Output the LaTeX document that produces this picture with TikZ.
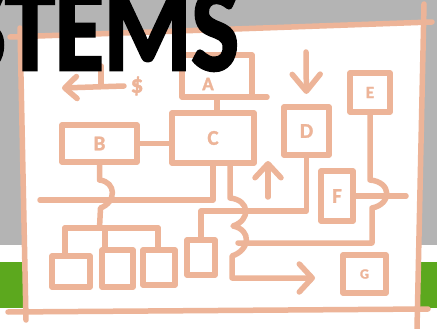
\documentclass[tikz,border=0pt]{standalone}
\usepackage{graphicx}
\usepackage{fontspec}
\setmainfont{Carlito}
\newfontfamily\titlefont{Carlito}[FakeBold=2.5]
\newfontfamily\sketchfont{Carlito}[FakeBold=1.5]
\usetikzlibrary{arrows.meta, positioning, calc}
\definecolor{cSketch}{RGB}{237,180,152}
\definecolor{cBoard}{RGB}{180,180,180}
\definecolor{cGrass}{RGB}{92,168,30}
\tikzset{
	pen/.style   ={draw=cSketch, line width=5.5pt, line cap=round, line join=round},
	sbox/.style  ={rectangle, pen, inner sep=0pt, outer sep=0pt, text=cSketch, font=\sketchfont\fontsize{21}{21}\selectfont\bfseries},
	glyph/.style ={text=cSketch, inner sep=0pt, font=\sketchfont\fontsize{19}{19}\selectfont\bfseries},
	wire/.style  ={pen},
}

\begin{document}
\begin{tikzpicture}[x=1pt, y=-1pt]
	\useasboundingbox (0,0) rectangle (437,329);
	\clip (0,0) rectangle (437,329);
	% slide background
	\fill[cBoard] (0,0) rectangle (437,245);
	\fill[white] (0,245) rectangle (437,262);
	\fill[cGrass] (0,262) rectangle (437,308);
	\fill[white] (0,308) rectangle (437,329);
	% sheet of paper
	\fill[white] (21,36) -- (423,23) -- (418,310) -- (26,312) -- cycle;
	\draw[pen] (20,28) -- (26,320);
	\draw[pen] (10,37) -- (432,22);
	\draw[pen] (424,4) -- (417,329);
	\draw[pen] (8,312) -- (428,309);
	% boxes
	\node[sbox, minimum width=70, minimum height=42] (A) at (217,76) {};
	\node[glyph] (lA) at (208,84) {A};
	\node[sbox, minimum width=75, minimum height=37] (B) at (99.5,143.5) {B};
	\node[sbox, minimum width=82, minimum height=50] (C) at (213,138) {C};
	\node[sbox, minimum width=45, minimum height=48] (D) at (306.5,131) {D};
	\node[sbox, minimum width=40, minimum height=39, font=\sketchfont\fontsize{17}{17}\selectfont\bfseries] (E) at (370,92.5) {E};
	\node[sbox, minimum width=32, minimum height=50] (F) at (337,196) {F};
	\node[sbox, minimum width=43, minimum height=38, font=\sketchfont\fontsize{14}{14}\selectfont\bfseries] (G) at (364.5,274) {G};
	\node[sbox, minimum width=38, minimum height=31] (T1) at (71,271.5) {};
	\node[sbox, minimum width=31, minimum height=37] (T2) at (117.5,268.5) {};
	\node[sbox, minimum width=32, minimum height=35] (T3) at (159,267.5) {};
	\node[sbox, minimum width=28, minimum height=35] (T4) at (201,257.5) {};
	% free ends
	\coordinate (cash) at (124,86);
	\coordinate (out) at (62,88);
	\coordinate (tick) at (101,66);
	\coordinate (feedD) at (306,52);
	\coordinate (upFoot) at (268,197);
	\coordinate (upHead) at (268,161);
	\coordinate (westEnd) at (40,200);
	\coordinate (busL) at (65,228);
	\coordinate (busR) at (158,228);
	\coordinate (eastJoin) at (238,243);
	\coordinate (fOut) at (406,195);
	% top left arrow
	\draw[wire, -{Straight Barb[round, length=12pt, width=22pt]}] (cash) -- (out);
	\draw[wire] (tick) -- (tick |- cash);
	\node[glyph, font=\sketchfont\fontsize{25}{25}\selectfont\bfseries] (dollar) at (137,86) {\$};
	% connectors
	\draw[wire] (A.south) -- (A.south |- C.north);
	\draw[wire] (A.south east) -- ++(15,0);
	\draw[wire] (B.east) -- (B.east -| C.west);
	\draw[wire, -{Straight Barb[round, length=17pt, width=28pt]}, shorten >=13pt] (feedD) -- (D.north);
	\draw[wire, -{Straight Barb[round, length=14pt, width=26pt]}] (upFoot) -- (upHead);
	\draw[wire] (D.south) -- ++(0,56) -| (T4.north);
	\draw[wire] (C.south) |- (westEnd);
	% B down to the tree, hopping the long line
	\draw[wire] (B.south) -- ++(0,18) .. controls +(17,2) and +(16,-6) .. ++(1,28) -- (B.south |- busL);
	\draw[wire] (busL) -- (busR);
	\draw[wire] (busL) -- (busL |- T1.north);
	\draw[wire] ([xshift=3pt]T2.north west |- busL) -- ([xshift=3pt]T2.north west);
	\draw[wire] (busR) -- (busR |- T3.north);
	% C down to G, hopping twice
	\draw[wire, -{Straight Barb[round, length=13pt, width=28pt]}, shorten >=28pt]
		([xshift=17pt]C.south) -- ++(0,35)
		.. controls +(20,2) and +(18,-6) .. ++(3,28)
		.. controls +(19,4) and +(18,-6) .. ++(-1,30)
		-- ++(0,22) -- ([yshift=-4pt]G.west);
	% E down, hopping the F line
	\draw[wire] (E.south) -- ++(0,68) .. controls +(22,2) and +(20,-4) .. ++(2,28) -- ++(0,35) -- (eastJoin);
	\draw[wire] (F.east) -- (F.east -| fOut);
	% title
	\node[anchor=south east, inner sep=0pt, text=black] (title) at (239,71) {\resizebox{280pt}{80pt}{\titlefont\bfseries STEMS}};
\end{tikzpicture}
\end{document}
